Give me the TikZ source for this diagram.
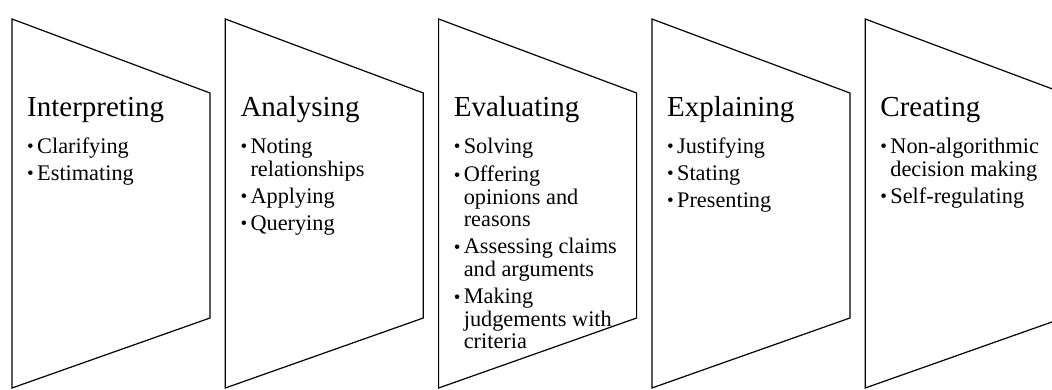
\documentclass[tikz,border=0pt]{standalone}
\usepackage{fontspec}
\setmainfont{Liberation Serif}
\usetikzlibrary{positioning}
\newcommand{\stepitem}[1]{\par\raggedright\spaceskip=0pt\hangindent=10pt\hangafter=1\noindent
  \makebox[10pt][l]{\raisebox{0.5pt}{\fontsize{19}{19}\selectfont\textbullet}}\strut#1\par}

\begin{document}
\begin{tikzpicture}[x=1pt,y=-1pt,
    stage/.style={draw=black, line width=1.2pt, line join=miter},
    stagetitle/.style={anchor=base west, inner sep=0pt, font=\fontsize{29}{31}\selectfont},
    stagelist/.style={anchor=north west, inner sep=0pt, text width=190pt, align=flush left,
      font=\fontsize{22.3}{22}\selectfont\setlength{\parskip}{5pt}}]
  \path[use as bounding box, clip] (0,0) rectangle (1052,390);
  % trapezoid frames
  \foreach \i in {0,...,4} {
    \draw[stage] (12+213.3*\i,19) -- ++(198,74) -- ++(0,225) -- (12+213.3*\i,388) -- cycle;
  }
  % Interpreting
  \node[stagetitle] (interp) at (27,117) {Interpreting};
  \node[stagelist] (interplist) at (27,126) {\stepitem{Clarifying}\stepitem{Estimating}};
  % Analysing
  \node[stagetitle] (analys) at (240.3,117) {Analysing};
  \node[stagelist] (analyslist) at (240.3,126)
    {\stepitem{Noting\newline relationships}\stepitem{Applying}\stepitem{Querying}};
  % Evaluating
  \node[stagetitle] (evalu) at (453.6,117) {Evaluating};
  \node[stagelist] (evalulist) at (453.6,126)
    {\stepitem{Solving}\stepitem{Offering\newline opinions and\newline reasons}%
     \stepitem{Assessing claims\newline and arguments}%
     \stepitem{Making\newline judgements with\newline criteria}};
  % Explaining
  \node[stagetitle] (expl) at (666.9,117) {Explaining};
  \node[stagelist] (expllist) at (666.9,126)
    {\stepitem{Justifying}\stepitem{Stating}\stepitem{Presenting}};
  % Creating
  \node[stagetitle] (creat) at (880.2,117) {Creating};
  \node[stagelist] (creatlist) at (880.2,126)
    {\stepitem{Non-algorithmic\newline decision making}\stepitem{Self-regulating}};
\end{tikzpicture}
\end{document}
